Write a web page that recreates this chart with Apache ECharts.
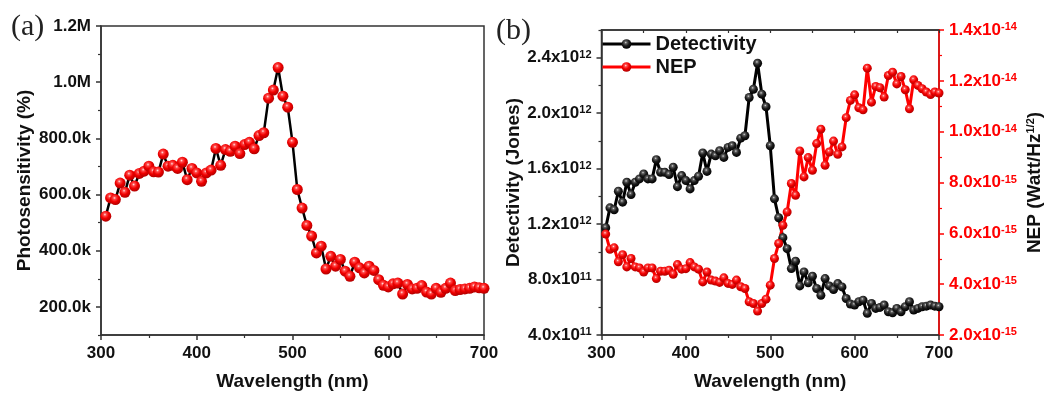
<!DOCTYPE html>
<html>
<head>
<meta charset="utf-8">
<script src="https://cdn.jsdelivr.net/npm/echarts@6/dist/echarts.min.js"></script>
<style>
  html, body { margin: 0; padding: 0; background: #fff; }
  #chart { width: 1045px; height: 396px; }
</style>
</head>
<body>
<div id="chart"></div>
<script>
const wavelength = [305, 310, 315, 320, 325, 330, 335, 340, 345, 350,
  355, 360, 365, 370, 375, 380, 385, 390, 395, 400,
  405, 410, 415, 420, 425, 430, 435, 440, 445, 450,
  455, 460, 465, 470, 475, 480, 485, 490, 495, 500,
  505, 510, 515, 520, 525, 530, 535, 540, 545, 550,
  555, 560, 565, 570, 575, 580, 585, 590, 595, 600,
  605, 610, 615, 620, 625, 630, 635, 640, 645, 650,
  655, 660, 665, 670, 675, 680, 685, 690, 695, 700]

// photosensitivity (%)
const photosensitivity = [523e3, 588e3, 582e3, 641e3, 608e3, 669e3, 630e3, 675e3, 683e3, 701e3,
  681e3, 680e3, 744e3, 701e3, 704e3, 693e3, 715e3, 653e3, 693e3, 677e3,
  647e3, 677e3, 687e3, 764e3, 704e3, 760e3, 754e3, 772e3, 746e3, 778e3,
  786e3, 763e3, 810e3, 820e3, 943e3, 972e3, 1052e3, 950e3, 911e3, 786e3,
  618e3, 552e3, 490e3, 452e3, 392e3, 416e3, 335e3, 380e3, 345e3, 369e3,
  327e3, 309e3, 359e3, 339e3, 321e3, 345e3, 330e3, 297e3, 277e3, 271e3,
  282e3, 285e3, 246e3, 280e3, 264e3, 266e3, 276e3, 253e3, 246e3, 266e3,
  252e3, 266e3, 285e3, 258e3, 262e3, 264e3, 266e3, 271e3, 268e3, 266e3]

// detectivity (Jones)
const detectivity = [1.174e12, 1.317e12, 1.303e12, 1.437e12, 1.358e12, 1.502e12, 1.413e12, 1.502e12, 1.526e12, 1.562e12,
  1.526e12, 1.526e12, 1.665e12, 1.574e12, 1.574e12, 1.557e12, 1.610e12, 1.470e12, 1.550e12, 1.514e12,
  1.454e12, 1.514e12, 1.545e12, 1.713e12, 1.580e12, 1.705e12, 1.693e12, 1.729e12, 1.681e12, 1.753e12,
  1.765e12, 1.717e12, 1.820e12, 1.837e12, 2.113e12, 2.173e12, 2.360e12, 2.137e12, 2.046e12, 1.765e12,
  1.382e12, 1.246e12, 1.102e12, 1.023e12, 8.79e11, 9.32e11, 7.54e11, 8.55e11, 7.76e11, 8.24e11,
  7.35e11, 6.87e11, 8.07e11, 7.54e11, 7.28e11, 7.71e11, 7.47e11, 6.63e11, 6.23e11, 6.16e11,
  6.40e11, 6.51e11, 5.56e11, 6.28e11, 5.92e11, 5.99e11, 6.16e11, 5.68e11, 5.60e11, 5.92e11,
  5.68e11, 6.04e11, 6.40e11, 5.80e11, 5.92e11, 6.04e11, 6.08e11, 6.16e11, 6.08e11, 6.04e11]

// NEP (Watt/Hz^1/2)
const nep = [5.97e-15, 5.37e-15, 5.43e-15, 4.88e-15, 5.16e-15, 4.68e-15, 5.01e-15, 4.68e-15, 4.64e-15, 4.48e-15,
  4.64e-15, 4.64e-15, 4.22e-15, 4.51e-15, 4.51e-15, 4.55e-15, 4.39e-15, 4.77e-15, 4.59e-15, 4.61e-15,
  4.85e-15, 4.68e-15, 4.59e-15, 4.09e-15, 4.48e-15, 4.16e-15, 4.12e-15, 4.07e-15, 4.25e-15, 4.03e-15,
  3.99e-15, 4.16e-15, 3.90e-15, 3.83e-15, 3.31e-15, 3.24e-15, 2.94e-15, 3.24e-15, 3.41e-15, 3.96e-15,
  5.01e-15, 5.60e-15, 6.32e-15, 6.84e-15, 7.96e-15, 7.50e-15, 9.24e-15, 8.22e-15, 8.98e-15, 8.48e-15,
  9.53e-15, 10.1e-15, 8.68e-15, 9.20e-15, 9.63e-15, 9.11e-15, 9.40e-15, 10.55e-15, 11.23e-15, 11.45e-15,
  10.94e-15, 10.86e-15, 12.5e-15, 11.16e-15, 11.78e-15, 11.73e-15, 11.36e-15, 12.21e-15, 12.34e-15, 11.88e-15,
  12.17e-15, 11.65e-15, 10.9e-15, 12.04e-15, 11.82e-15, 11.69e-15, 11.56e-15, 11.46e-15, 11.56e-15, 11.52e-15]

// tick values
const psTicks = [200e3, 400e3, 600e3, 800e3, 1000e3, 1200e3]
const psTickLabels = ['200.0k', '400.0k', '600.0k', '800.0k', '1.0M', '1.2M']
const psMinorTicks = [100e3, 300e3, 500e3, 700e3, 900e3, 1100e3]
const detTicks = [4e11, 8e11, 1.2e12, 1.6e12, 2.0e12, 2.4e12]
const detMinorTicks = [6e11, 1.0e12, 1.4e12, 1.8e12, 2.2e12, 2.6e12]
const nepTicks = [2e-15, 4e-15, 6e-15, 8e-15, 1.0e-14, 1.2e-14, 1.4e-14]
const nepMinorTicks = [3e-15, 5e-15, 7e-15, 9e-15, 1.1e-14, 1.3e-14]

const FONT = '"Liberation Sans", Arial, sans-serif'
const AXIS_COLOR = '#333'
const RED = '#ff0000'

const redBall = {
  type: 'radial', x: 0.42, y: 0.35, r: 0.65,
  colorStops: [
    { offset: 0, color: '#ffe4e4' },
    { offset: 0.2, color: '#ff4a4a' },
    { offset: 0.55, color: '#f00000' },
    { offset: 1, color: '#b00000' },
  ],
}
const blackBall = {
  type: 'radial', x: 0.42, y: 0.35, r: 0.65,
  colorStops: [
    { offset: 0, color: '#d8d8d8' },
    { offset: 0.2, color: '#606060' },
    { offset: 0.55, color: '#1c1c1c' },
    { offset: 1, color: '#000' },
  ],
}

const sci = (v) => {
  const e = Math.floor(Math.log10(v) + 1e-9)
  const m = v / Math.pow(10, e)
  return `{m|${m.toFixed(1)}x10}{s|${e}}`
}
const sciRich = (color) => ({
  m: { fontSize: 17, fontWeight: 'bold', fontFamily: FONT, color },
  s: { fontSize: 11, fontWeight: 'bold', fontFamily: FONT, color, verticalAlign: 'top' },
})

const titleStyle = { fontSize: 19, fontWeight: 'bold', fontFamily: FONT, color: '#111' }
const labelStyle = { fontSize: 17, fontWeight: 'bold', fontFamily: FONT, color: '#111' }

const xAxisBase = (gridIndex) => ({
  type: 'value', gridIndex, position: 'bottom',
  min: 300, max: 700, interval: 100,
  name: 'Wavelength (nm)', nameLocation: 'middle', nameGap: 37,
  nameTextStyle: titleStyle,
  axisLine: { lineStyle: { color: AXIS_COLOR, width: 1.5 } },
  axisTick: { inside: false, length: 5, lineStyle: { color: AXIS_COLOR, width: 1.5 } },
  minorTick: { show: true, splitNumber: 2, length: 3, lineStyle: { color: AXIS_COLOR, width: 1.2 } },
  axisLabel: { ...labelStyle, margin: 10 },
  splitLine: { show: false },
})

// second axis on the same side that only draws the short minor ticks
const minorAxis = (gridIndex, position, min, max, ticks, color) => ({
  type: 'value', gridIndex, position, min, max,
  axisLine: { show: false },
  axisLabel: { show: false },
  splitLine: { show: false },
  axisTick: { show: true, length: 3, customValues: ticks, lineStyle: { color, width: 1.2 } },
})

const chart = echarts.init(document.getElementById('chart'), null, { renderer: 'canvas' })

const option = {
  animation: false,
  backgroundColor: '#fff',
  grid: [
    { left: 101, top: 26, width: 383, height: 309, show: true, borderColor: AXIS_COLOR, borderWidth: 1.5 },
    { left: 601.5, top: 30, width: 340.5, height: 306, show: true, borderColor: AXIS_COLOR, borderWidth: 1.5 },
  ],
  legend: {
    data: ['Detectivity', 'NEP'],
    orient: 'vertical',
    left: 601, top: 34, padding: 0,
    itemWidth: 48, itemHeight: 12, itemGap: 3,
    lineStyle: { width: 3 },
    textStyle: { fontSize: 20, fontWeight: 'bold', fontFamily: FONT, color: '#111' },
  },
  graphic: [
    { type: 'text', left: 11, top: 12, style: { text: '(a)', font: '30px "Liberation Serif", "Times New Roman", serif', fill: '#222' } },
    { type: 'text', left: 496, top: 16, style: { text: '(b)', font: '30px "Liberation Serif", "Times New Roman", serif', fill: '#222' } },
  ],
  xAxis: [
    xAxisBase(0),
    xAxisBase(1),
    {
      type: 'value', gridIndex: 1, position: 'top',
      min: 300, max: 700, interval: 50,
      axisLine: { lineStyle: { color: AXIS_COLOR, width: 1.5 } },
      axisTick: { inside: true, length: 3, lineStyle: { color: AXIS_COLOR, width: 1.2 } },
      axisLabel: { show: false },
      splitLine: { show: false },
    },
  ],
  yAxis: [
    {
      type: 'value', gridIndex: 0, position: 'left',
      min: 100e3, max: 1200e3, interval: 100e3,
      name: 'Photosensitivity (%)', nameLocation: 'middle', nameGap: 67,
      nameTextStyle: titleStyle,
      axisLine: { show: true, lineStyle: { color: AXIS_COLOR, width: 1.5 } },
      axisTick: { show: true, length: 5, customValues: psTicks, lineStyle: { color: AXIS_COLOR, width: 1.5 } },
      axisLabel: {
        ...labelStyle, margin: 10, customValues: psTicks,
        formatter: (v) => psTickLabels[psTicks.indexOf(v)] || '',
      },
      splitLine: { show: false },
    },
    minorAxis(0, 'left', 100e3, 1200e3, psMinorTicks, AXIS_COLOR),
    {
      type: 'value', gridIndex: 1, position: 'left',
      min: 4e11, max: 2.6e12, interval: 2e11,
      name: 'Detectivity (Jones)', nameLocation: 'middle', nameGap: 68,
      nameTextStyle: titleStyle,
      axisLine: { show: true, lineStyle: { color: AXIS_COLOR, width: 1.5 } },
      axisTick: { show: true, length: 5, customValues: detTicks, lineStyle: { color: AXIS_COLOR, width: 1.5 } },
      axisLabel: { margin: 10, customValues: detTicks, formatter: sci, rich: sciRich('#111') },
      splitLine: { show: false },
    },
    minorAxis(1, 'left', 4e11, 2.6e12, detMinorTicks, AXIS_COLOR),
    {
      type: 'value', gridIndex: 1, position: 'right',
      min: 2e-15, max: 1.4e-14, interval: 1e-15,
      name: '{n|NEP (Watt/Hz}{s|1/2}{n|)}', nameLocation: 'middle', nameGap: 86,
      nameTextStyle: {
        rich: {
          n: { ...titleStyle },
          s: { fontSize: 11, fontWeight: 'bold', fontFamily: FONT, color: '#111', verticalAlign: 'top' },
        },
      },
      axisLine: { show: true, lineStyle: { color: RED, width: 1.5 } },
      axisTick: { show: true, length: 5, customValues: nepTicks, lineStyle: { color: RED, width: 1.5 } },
      axisLabel: { margin: 10, customValues: nepTicks, formatter: sci, rich: sciRich(RED) },
      splitLine: { show: false },
    },
    minorAxis(1, 'right', 2e-15, 1.4e-14, nepMinorTicks, RED),
  ],
  series: [
    {
      name: 'Photosensitivity', type: 'line',
      xAxisIndex: 0, yAxisIndex: 0,
      data: wavelength.map((w, i) => [w, photosensitivity[i]]),
      symbol: 'circle', symbolSize: 11,
      itemStyle: { color: redBall },
      lineStyle: { color: '#000', width: 2.5 },
      emphasis: { disabled: true },
    },
    {
      name: 'Detectivity', type: 'line',
      xAxisIndex: 1, yAxisIndex: 2,
      data: wavelength.map((w, i) => [w, detectivity[i]]),
      symbol: 'circle', symbolSize: 9,
      itemStyle: { color: blackBall },
      lineStyle: { color: '#000', width: 3 },
      emphasis: { disabled: true },
    },
    {
      name: 'NEP', type: 'line',
      xAxisIndex: 1, yAxisIndex: 4,
      data: wavelength.map((w, i) => [w, nep[i]]),
      symbol: 'circle', symbolSize: 9,
      itemStyle: { color: redBall },
      lineStyle: { color: RED, width: 3 },
      emphasis: { disabled: true },
    },
  ],
}

chart.setOption(option)
</script>
</body>
</html>
